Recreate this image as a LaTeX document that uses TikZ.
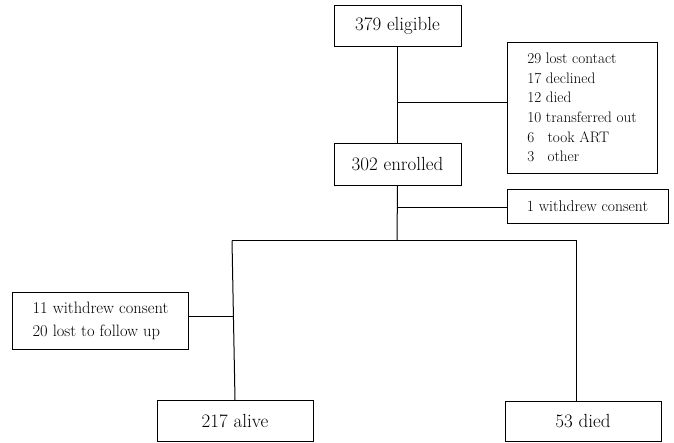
\documentclass[tikz,border=0pt]{standalone}
\usepackage{fontspec}
\tikzset{
  box/.style={draw,line width=1pt,inner sep=0pt,align=center},
  mainbox/.style={box,font=\fontsize{19}{22}\selectfont},
  sidebox/.style={box,align=left,font=\fontsize{15.2}{19.6}\selectfont},
  conn/.style={line width=1pt}}
\begin{document}
\begin{tikzpicture}[x=1pt,y=-1pt]
\useasboundingbox (0,0) rectangle (674,442);
\node[mainbox,minimum width=127,minimum height=41] (elig) at (397.5,25.5) {379 eligible};
\node[mainbox,minimum width=127,minimum height=42] (enr) at (397.5,164) {302 enrolled};
\node[sidebox,minimum width=150,minimum height=131] (excl) at (582,107.5)
  {29 lost contact\\17 declined\\12 died\\10 transferred out\\\makebox[1.333em][l]{6}took ART\\\makebox[1.333em][l]{3}other};
\node[sidebox,font=\fontsize{15.6}{19.6}\selectfont,minimum width=161,minimum height=34,align=center] (wd) at (587.5,206) {1 withdrew consent};
\node[box,align=left,font=\fontsize{16.5}{23}\selectfont,minimum width=176,minimum height=57] (lw) at (100.5,320.5)
  {11 withdrew consent\\20 lost to follow up};
\node[mainbox,minimum width=156,minimum height=41] (alive) at (235,421) {217 alive};
\node[mainbox,minimum width=156,minimum height=40.5] (died) at (583,421.25) {53 died};
\coordinate (j1) at (397,102);
\coordinate (j2) at (397,207);
\coordinate (br) at (397,240.5);
\coordinate (bl) at (232,240.5);
\coordinate (bR) at (576.5,240.5);
\coordinate (j3) at (233.5,316);
\draw[conn] (elig.south) -- (enr.north);
\draw[conn] (j1) -- (j1 -| excl.west);
\draw[conn] (enr.south) -- (br);
\draw[conn] (j2) -- (j2 -| wd.west);
\draw[conn] (bl) -- (bR);
\draw[conn] (bl) -- (alive.north);
\draw[conn] (bR) -- (bR |- died.north);
\draw[conn] (j3 -| lw.east) -- (j3);
\end{tikzpicture}
\end{document}
